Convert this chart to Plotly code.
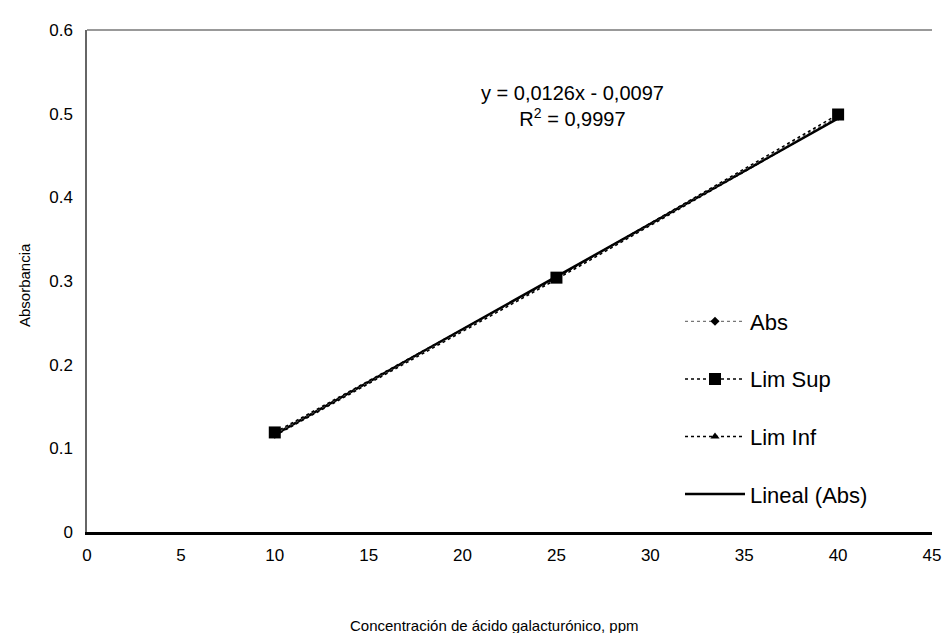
import plotly.graph_objects as go

# Data
conc = [10, 25, 40]
abs_vals = [0.117, 0.303, 0.497]
lim_sup = [0.119, 0.304, 0.499]
lim_inf = [0.115, 0.302, 0.495]
trend_x = [10, 40]
trend_y = [0.1163, 0.4943]
x_ticks = [0, 5, 10, 15, 20, 25, 30, 35, 40, 45]
y_ticks = [0, 0.1, 0.2, 0.3, 0.4, 0.5, 0.6]
y_tick_text = ["0", "0.1", "0.2", "0.3", "0.4", "0.5", "0.6"]
equation = "y = 0,0126x - 0,0097<br>R<sup>2</sup> = 0,9997"
font_fam = "Liberation Sans, Arial, sans-serif"

L, R, T, B = 87, 10, 30, 101
PW, PH = 942 - L - R, 633 - T - B

fig = go.Figure()
fig.add_trace(go.Scatter(
    x=trend_x, y=trend_y, mode="lines", name="Lineal (Abs)",
    line=dict(color="black", width=2.5), legendgroup="d", legendrank=4))
fig.add_trace(go.Scatter(
    x=conc, y=abs_vals, mode="lines+markers", name="Abs",
    line=dict(color="#555555", width=1, dash="dot"),
    marker=dict(symbol="diamond", size=7, color="black"), legendgroup="a", legendrank=1))
fig.add_trace(go.Scatter(
    x=conc, y=lim_sup, mode="lines+markers", name="Lim Sup",
    line=dict(color="black", width=1.5, dash="dot"),
    marker=dict(symbol="square", size=12, color="black"), legendgroup="b", legendrank=2))
fig.add_trace(go.Scatter(
    x=conc, y=lim_inf, mode="lines+markers", name="Lim Inf",
    line=dict(color="black", width=1.5, dash="dot"),
    marker=dict(symbol="triangle-up", size=8, color="black"), legendgroup="c", legendrank=3))

fig.add_annotation(
    x=(572 - L) / PW, y=(532 - 106) / PH, xref="paper", yref="paper", text=equation,
    showarrow=False, font=dict(family=font_fam, size=20, color="black"), align="center",
    xanchor="center", yanchor="middle")

fig.add_annotation(
    x=(494 - L) / PW, y=(532 - 625) / PH, xref="paper", yref="paper",
    text="Concentración de ácido galacturónico, ppm", showarrow=False,
    font=dict(family=font_fam, size=15, color="black"), xanchor="center", yanchor="middle")

fig.add_annotation(
    x=(24 - L) / PW, y=(532 - 285) / PH, xref="paper", yref="paper",
    text="Absorbancia", showarrow=False, textangle=-90,
    font=dict(family=font_fam, size=15, color="black"), xanchor="center", yanchor="middle")

# top border of plot area
fig.add_shape(type="line", xref="paper", yref="paper", x0=0, x1=1, y0=1, y1=1,
              line=dict(color="#777777", width=1.5))

fig.update_layout(
    width=942, height=633,
    margin=dict(l=L, r=R, t=T, b=B, autoexpand=False),
    paper_bgcolor="white", plot_bgcolor="white",
    font=dict(family=font_fam, color="black"),
    showlegend=True,
    legend=dict(x=(680 - L) / PW, y=(532 - 408) / PH, xanchor="left", yanchor="middle",
                font=dict(family=font_fam, size=22, color="black"),
                itemwidth=60, tracegroupgap=26, bgcolor="rgba(0,0,0,0)",
                traceorder="grouped"),
    xaxis=dict(range=[0, 45], tickvals=x_ticks, showgrid=False, zeroline=False,
               showline=True, linecolor="black", linewidth=2.5, ticks="",
               tickfont=dict(size=17, family=font_fam), ticklabelstandoff=6,
               automargin=False),
    yaxis=dict(range=[0, 0.6], tickvals=y_ticks, ticktext=y_tick_text, showgrid=False,
               zeroline=False, showline=True, linecolor="#666666", linewidth=1.5, ticks="",
               tickfont=dict(size=17, family=font_fam), ticklabelstandoff=9,
               automargin=False),
)

fig.write_html("out.html", config={"displayModeBar": False},
               post_script="document.body.style.margin='0px';document.body.style.overflow='hidden';")
